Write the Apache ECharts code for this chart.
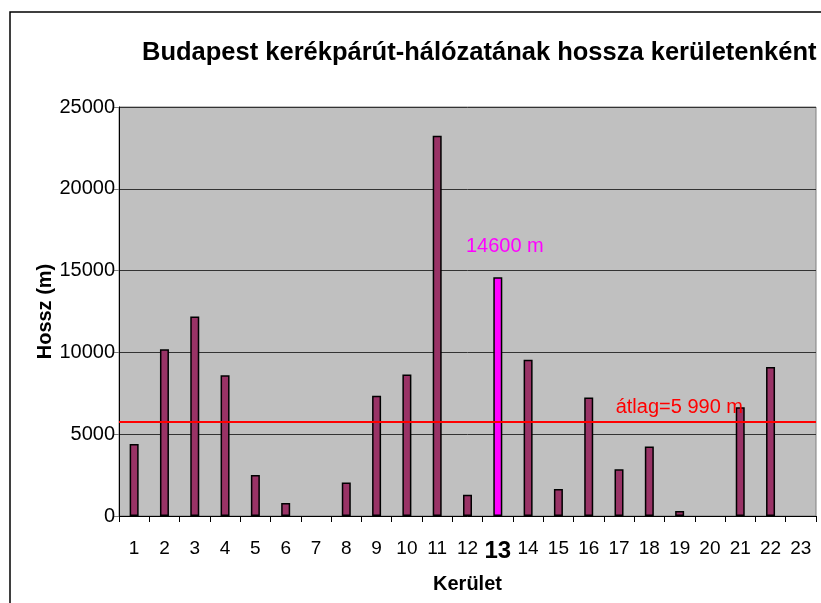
<!DOCTYPE html>
<html>
<head>
<meta charset="utf-8">
<script src="https://cdn.jsdelivr.net/npm/echarts@6/dist/echarts.min.js"></script>
<style>html,body{margin:0;padding:0;background:#fff;}#c{width:821px;height:603px;}</style>
</head>
<body>
<div id="c"></div>
<script>
const categories = ['1','2','3','4','5','6','7','8','9','10','11','12','13','14','15','16','17','18','19','20','21','22','23'];
const lengths = [4400,10200,12200,8600,2500,800,0,2050,7350,8650,23250,1300,14600,9550,1650,7250,2850,4250,300,0,6650,9100,0];
const highlightCategory = '13';
const averageValue = 5750;
const averageLabel = 'átlag=5 990 m';
const highlightLabel = '14600 m';
const yTicks = [0,5000,10000,15000,20000,25000];

const FONT = 'Liberation Sans, Arial, sans-serif';
const chart = echarts.init(document.getElementById('c'), null, {renderer:'canvas'});

const barData = lengths.map((v,i) => {
  const isHi = categories[i] === highlightCategory;
  return {
    value: v,
    itemStyle: { color: isHi ? '#FF00FF' : '#993366', borderWidth: v === 0 ? 0 : 1.5 },
    label: isHi ? {
      show: true, position: 'top', distance: 21, offset: [7, 0],
      formatter: highlightLabel, color: '#FF00FF',
      fontSize: 20, fontFamily: FONT
    } : { show: false }
  };
});

chart.setOption({
  backgroundColor: '#ffffff',
  animation: false,
  title: {
    text: 'Budapest kerékpárút-hálózatának hossza kerületenként',
    left: 137, top: 35,
    textStyle: { fontFamily: FONT, fontSize: 25.5, fontWeight: 'bold', color: '#000' }
  },
  graphic: [{
    type: 'rect', silent: true, z: 0,
    shape: { x: 10, y: 12, width: 900, height: 700 },
    style: { fill: 'none', stroke: '#000', lineWidth: 1.5 }
  }],
  grid: { left: 119, right: 5, top: 107, bottom: 87, show: true, backgroundColor: '#C0C0C0', borderColor: '#808080', borderWidth: 1 },
  xAxis: {
    type: 'category',
    data: categories,
    name: 'Kerület', nameLocation: 'middle', nameGap: 58,
    nameTextStyle: { fontFamily: FONT, fontSize: 20, fontWeight: 'bold', color: '#000' },
    axisLine: { lineStyle: { color: '#000', width: 1 } },
    axisTick: { show: true, length: 6, lineStyle: { color: '#000' } },
    axisLabel: {
      interval: 0, margin: 23, fontFamily: FONT, fontSize: 19, color: '#000',
      formatter: v => v === highlightCategory ? '{b|' + v + '}' : v,
      rich: { b: { fontFamily: FONT, fontSize: 24, fontWeight: 'bold', color: '#000' } }
    }
  },
  yAxis: {
    type: 'value', min: 0, max: 25000, interval: 5000,
    name: 'Hossz (m)', nameLocation: 'middle', nameGap: 64, nameRotate: 90, nameMoveOverlap: false,
    nameTextStyle: { fontFamily: FONT, fontSize: 20, fontWeight: 'bold', color: '#000' },
    axisLine: { show: true, lineStyle: { color: '#000', width: 1 } },
    axisTick: { show: true, length: 5, lineStyle: { color: '#808080' } },
    axisLabel: { margin: 4, fontFamily: FONT, fontSize: 20, color: '#000',
      formatter: v => yTicks.includes(v) ? String(v) : '' },
    splitLine: { show: true, lineStyle: { color: '#333333', width: 1 } }
  },
  series: [{
    type: 'bar',
    data: barData,
    barWidth: 9,
    itemStyle: { borderColor: '#000', borderWidth: 1.5 },
    markLine: {
      silent: true, symbol: 'none',
      lineStyle: { color: '#FF0000', width: 2, type: 'solid' },
      data: [{
        yAxis: averageValue,
        label: { show: true, position: 'insideEndTop', formatter: averageLabel,
          color: '#FF0000', fontFamily: FONT, fontSize: 20, offset: [-68, 1] }
      }]
    }
  }]
});
</script>
</body>
</html>
